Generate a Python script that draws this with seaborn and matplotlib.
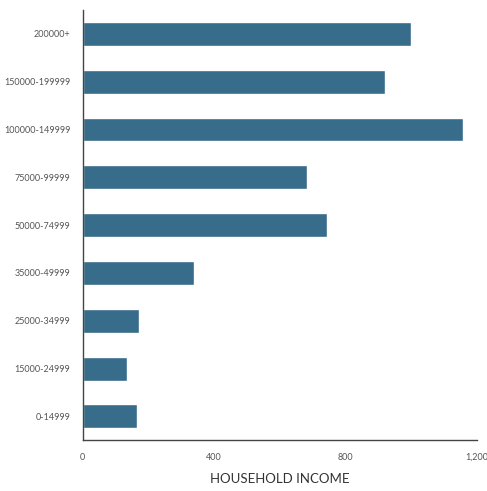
import pandas as pd
import matplotlib.pyplot as plt
import seaborn as sns

# --- DATA ---
income_bands = ["200000+", "150000-199999", "100000-149999", "75000-99999",
                "50000-74999", "35000-49999", "25000-34999", "15000-24999", "0-14999"]
households = [998, 919, 1157, 683, 743, 338, 170, 134, 165]

df = pd.DataFrame({"band": income_bands, "count": households})

sns.set_style("white")
plt.rcParams["font.family"] = ["Lato", "DejaVu Sans"]

fig = plt.figure(figsize=(4.87, 4.91), dpi=100)
ax = fig.add_axes([0.17, 0.1033, 0.81, 0.8763])

sns.barplot(data=df, x="count", y="band", order=income_bands, orient="h",
            color="#386c8b", saturation=1, width=0.5, ax=ax)

ax.set_xlim(0, 1200)
ax.set_ylim(8.5, -0.5)
ax.set_xticks([0, 400, 800, 1200])
ax.set_xticklabels(["0", "400", "800", "1,200"])
ax.set_ylabel("")
ax.set_xlabel("HOUSEHOLD INCOME", fontsize=9.5, color="#333333", labelpad=8)

sns.despine(ax=ax)
for side in ["left", "bottom"]:
    ax.spines[side].set_color("#444444")
    ax.spines[side].set_linewidth(1.0)

ax.tick_params(axis="both", which="major", labelsize=6.5, labelcolor="#555555",
               color="#444444", length=5, width=1, direction="out")
ax.tick_params(axis="y", pad=4)
ax.tick_params(axis="x", pad=4)

fig.savefig("out.png", dpi=100)
